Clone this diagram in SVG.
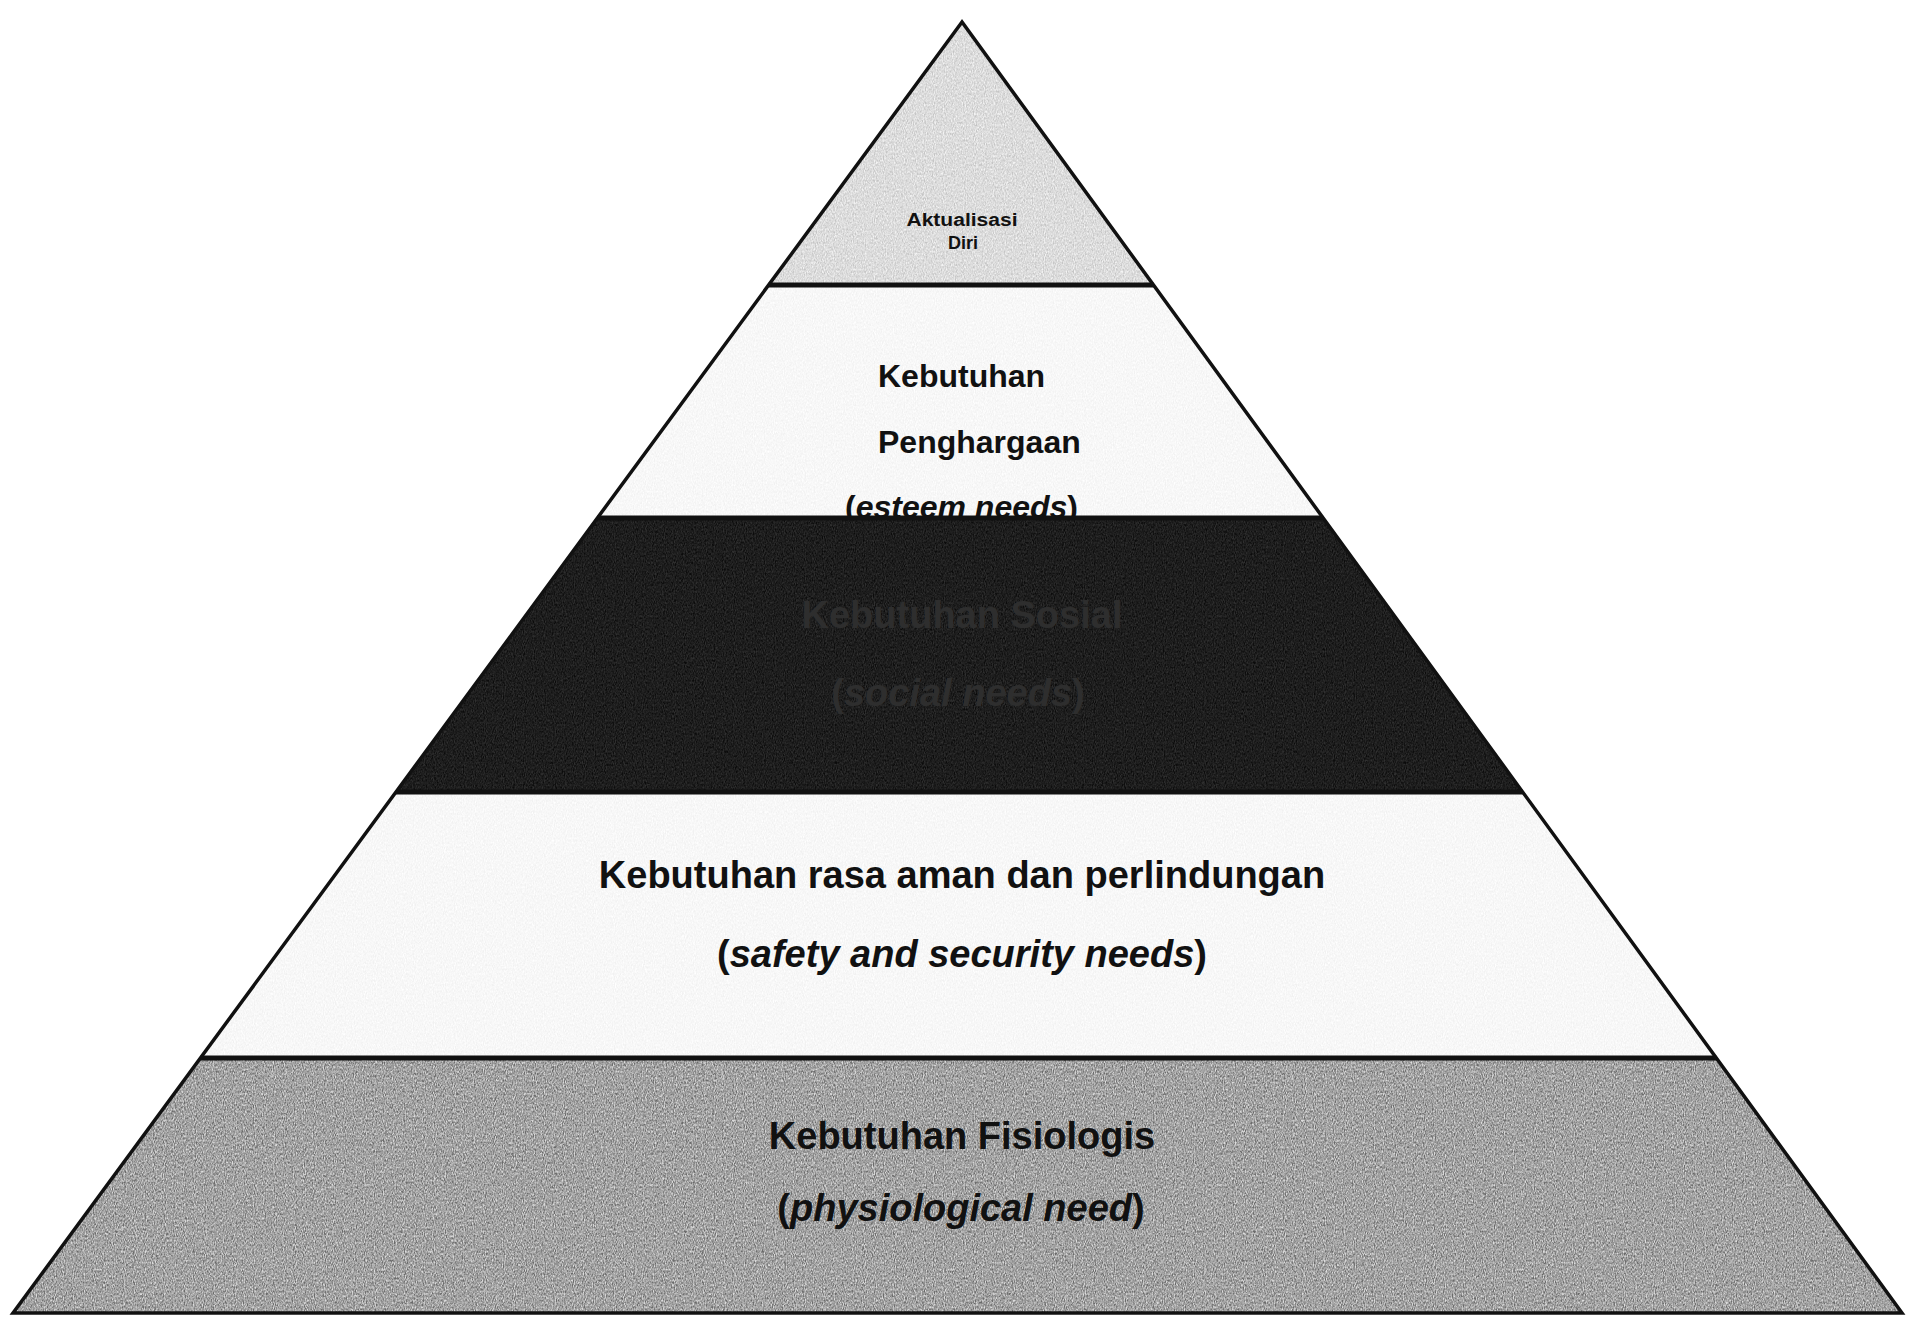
<svg xmlns="http://www.w3.org/2000/svg" width="1911" height="1318" viewBox="0 0 1911 1318">
  <style>
    .lbl { font-family: "Liberation Sans", Arial, sans-serif; font-weight: bold; fill: #111; text-anchor: middle; }
    .lbl-l { font-family: "Liberation Sans", Arial, sans-serif; font-weight: bold; fill: #111; }
    .it { font-style: italic; }
    .edge { fill: none; stroke: #111; stroke-width: 3.5; stroke-linejoin: miter; }
    .div { stroke: #111; stroke-width: 5; }
  </style>
  <defs>
    <filter id="grain" x="0%" y="0%" width="100%" height="100%" color-interpolation-filters="sRGB">
      <feTurbulence type="fractalNoise" baseFrequency="0.9 0.45" numOctaves="2" seed="7" result="n"/>
      <feColorMatrix in="n" type="matrix" values="0.33 0.33 0.33 0 0  0.33 0.33 0.33 0 0  0.33 0.33 0.33 0 0  0 0 0 0 1" result="g"/>
      <feComponentTransfer in="g" result="c">
        <feFuncR type="linear" slope="3" intercept="-1"/>
        <feFuncG type="linear" slope="3" intercept="-1"/>
        <feFuncB type="linear" slope="3" intercept="-1"/>
      </feComponentTransfer>
      <feComposite in="c" in2="SourceAlpha" operator="in"/>
    </filter>
  </defs>
  <rect x="0" y="0" width="1911" height="1318" fill="#ffffff"/>

  <!-- Layer 1: Aktualisasi Diri -->
  <g id="layer-aktualisasi">
    <polygon points="962,22 768.7,285 1153.5,285" fill="#f2f2f2"/>
    <polygon points="962,22 768.7,285 1153.5,285" fill="#808080" filter="url(#grain)" opacity="0.18"/>
    <text class="lbl" x="962" y="226" font-size="18" textLength="111" lengthAdjust="spacingAndGlyphs">Aktualisasi</text>
    <text class="lbl" x="963" y="249" font-size="18">Diri</text>
  </g>

  <!-- Layer 2: Penghargaan -->
  <g id="layer-penghargaan">
    <polygon points="768.7,285 1153.5,285 1323.1,518 597.4,518" fill="#ffffff"/>
    <polygon points="768.7,285 1153.5,285 1323.1,518 597.4,518" fill="#808080" filter="url(#grain)" opacity="0.05"/>
    <text class="lbl-l" x="878" y="387" font-size="32">Kebutuhan</text>
    <text class="lbl-l" x="878" y="453" font-size="32">Penghargaan</text>
    <text class="lbl-l" x="845" y="518" font-size="32">(<tspan class="it">esteem needs</tspan>)</text>
  </g>

  <!-- Layer 3: Sosial (dark band) -->
  <g id="layer-sosial">
    <polygon points="597.4,518 1323.1,518 1522.6,792 396,792" fill="#0e0e0e"/>
    <polygon points="597.4,518 1323.1,518 1522.6,792 396,792" fill="#808080" filter="url(#grain)" opacity="0.14"/>
    <text class="lbl" x="962" y="628" font-size="38" style="fill:#2e2e2e">Kebutuhan Sosial</text>
    <text class="lbl" x="958" y="706" font-size="38" style="fill:#2e2e2e">(<tspan class="it">social needs</tspan>)</text>
  </g>

  <!-- Layer 4: Rasa aman -->
  <g id="layer-aman">
    <polygon points="396,792 1522.6,792 1716.2,1058 200.5,1058" fill="#ffffff"/>
    <polygon points="396,792 1522.6,792 1716.2,1058 200.5,1058" fill="#808080" filter="url(#grain)" opacity="0.05"/>
    <text class="lbl" x="962" y="888" font-size="38">Kebutuhan rasa aman dan perlindungan</text>
    <text class="lbl" x="962" y="967" font-size="38">(<tspan class="it">safety and security needs</tspan>)</text>
  </g>

  <!-- Layer 5: Fisiologis -->
  <g id="layer-fisiologis">
    <polygon points="200.5,1058 1716.2,1058 1902,1313 13,1313" fill="#c2c2c2"/>
    <polygon points="200.5,1058 1716.2,1058 1902,1313 13,1313" fill="#808080" filter="url(#grain)" opacity="0.45"/>
    <text class="lbl" x="962" y="1149" font-size="38">Kebutuhan Fisiologis</text>
    <text class="lbl" x="961" y="1221" font-size="38">(<tspan class="it">physiological need</tspan>)</text>
  </g>

  <!-- Outline and dividers -->
  <g id="connectors">
    <polygon class="edge" points="962,22 13,1313 1902,1313"/>
    <line class="div" x1="768.7" y1="285" x2="1153.5" y2="285"/>
    <line class="div" x1="597.4" y1="518" x2="1323.1" y2="518"/>
    <line class="div" x1="396" y1="792" x2="1522.6" y2="792"/>
    <line class="div" x1="200.5" y1="1058" x2="1716.2" y2="1058"/>
  </g>
</svg>
